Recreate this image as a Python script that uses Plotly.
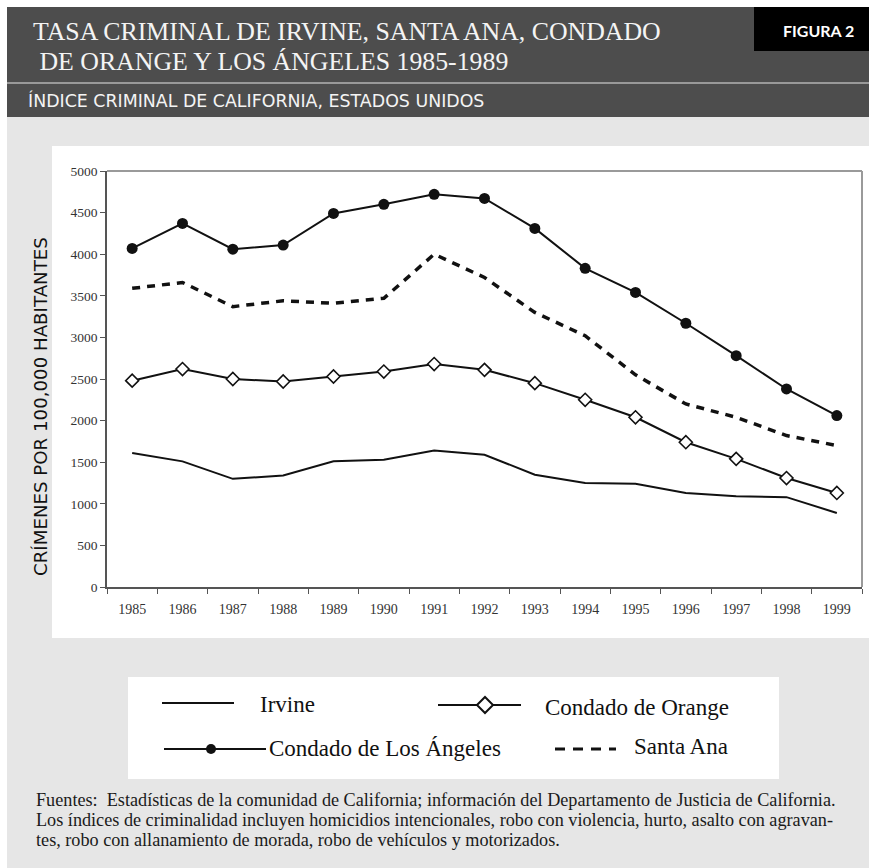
import plotly.graph_objects as go

# ---- data -------------------------------------------------------------
years = [str(y) for y in range(1985, 2000)]

irvine = [1610, 1510, 1300, 1340, 1510, 1530, 1640, 1590,
          1350, 1250, 1240, 1130, 1090, 1080, 890]
orange_county = [2480, 2620, 2500, 2470, 2530, 2590, 2680, 2610,
                 2450, 2250, 2040, 1740, 1540, 1310, 1130]
los_angeles = [4070, 4370, 4060, 4110, 4490, 4600, 4720, 4670,
               4310, 3830, 3540, 3170, 2780, 2380, 2060]
santa_ana = [3590, 3660, 3370, 3440, 3410, 3470, 4000, 3720,
             3300, 3020, 2550, 2200, 2040, 1820, 1700]

y_ticks = [0, 500, 1000, 1500, 2000, 2500, 3000, 3500, 4000, 4500, 5000]

title_lines = ["TASA CRIMINAL DE IRVINE, SANTA ANA, CONDADO",
               " DE ORANGE Y LOS ÁNGELES 1985-1989"]
subtitle = "ÍNDICE CRIMINAL DE CALIFORNIA, ESTADOS UNIDOS"
badge = "FIGURA 2"
y_title = "CRÍMENES POR 100,000 HABITANTES"
footnote_lines = [
    "Fuentes:  Estadísticas de la comunidad de California; información del Departamento de Justicia de California.",
    "Los índices de criminalidad incluyen homicidios intencionales, robo con violencia, hurto, asalto con agravan-",
    "tes, robo con allanamiento de morada, robo de vehículos y motorizados.",
]

# ---- page geometry (pixels) ------------------------------------------
W, H = 869, 868
PL, PR, PT, PB = 107, 862, 171, 587   # plot area edges


def fx(x):
    return (x - PL) / (PR - PL)


def fy(y):
    return (PB - y) / (PB - PT)


SERIF = "Liberation Serif"
SANS = "DejaVu Sans"
INK = "#111111"

fig = go.Figure()

fig.add_trace(go.Scatter(x=years, y=irvine, mode="lines", name="Irvine",
                         line=dict(color=INK, width=2)))
fig.add_trace(go.Scatter(x=years, y=santa_ana, mode="lines", name="Santa Ana",
                         line=dict(color=INK, width=3.5, dash="8px,7px")))
fig.add_trace(go.Scatter(x=years, y=orange_county, mode="lines+markers",
                         name="Condado de Orange",
                         line=dict(color=INK, width=2),
                         marker=dict(symbol="diamond", size=10, color="white",
                                     line=dict(color=INK, width=1.6))))
fig.add_trace(go.Scatter(x=years, y=los_angeles, mode="lines+markers",
                         name="Condado de Los Ángeles",
                         line=dict(color=INK, width=2),
                         marker=dict(symbol="circle", size=11, color=INK)))

shapes = []


def rect(x0, y0, x1, y1, color, layer="below"):
    shapes.append(dict(type="rect", xref="paper", yref="paper",
                       x0=fx(x0), x1=fx(x1), y0=fy(y1), y1=fy(y0),
                       fillcolor=color, line=dict(width=0), layer=layer))


def hline(x0, x1, y, color, width, dash="solid", layer="above"):
    shapes.append(dict(type="line", xref="paper", yref="paper",
                       x0=fx(x0), x1=fx(x1), y0=fy(y), y1=fy(y),
                       line=dict(color=color, width=width, dash=dash),
                       layer=layer))


# page panels
rect(7, 117, W, H, "#e6e6e6")
rect(7, 7, W, 117, "#4d4d4d")
rect(754, 7, W, 51, "#000000")
hline(7, W, 83, "#b3b3b3", 1.5, layer="below")
rect(52, 146, W, 638, "#ffffff")
rect(128, 677, 779, 779, "#ffffff")

# plot frame (top and right edges)
shapes.append(dict(type="line", xref="paper", yref="paper", x0=0, x1=1, y0=1, y1=1,
                   line=dict(color="#9a9a9a", width=2)))
shapes.append(dict(type="line", xref="paper", yref="paper", x0=1, x1=1, y0=0, y1=1,
                   line=dict(color="#9a9a9a", width=2)))

# legend keys
hline(162, 234, 703, INK, 2.2)
hline(438, 521, 705, INK, 2.2)
hline(164, 266, 749, INK, 2.2)
hline(555, 616, 749, INK, 3, dash="10px,8px")

# diamond key
dx, dy, r = 485, 705, 8
shapes.append(dict(type="path", xref="paper", yref="paper",
                   path=(f"M {fx(dx - r)},{fy(dy)} L {fx(dx)},{fy(dy - r)} "
                         f"L {fx(dx + r)},{fy(dy)} L {fx(dx)},{fy(dy + r)} Z"),
                   fillcolor="white", line=dict(color=INK, width=2)))
# dot key
cx, cy, cr = 211, 749, 5
shapes.append(dict(type="circle", xref="paper", yref="paper",
                   x0=fx(cx - cr), x1=fx(cx + cr), y0=fy(cy + cr), y1=fy(cy - cr),
                   fillcolor=INK, line=dict(color=INK, width=0)))

annotations = []


def label(text, x, y, size, family, color="#111111", xanchor="left",
          yanchor="middle", angle=0, weight="normal", align="left"):
    annotations.append(dict(text=text, x=fx(x), y=fy(y), xref="paper", yref="paper",
                            showarrow=False, xanchor=xanchor, yanchor=yanchor,
                            textangle=angle, align=align,
                            font=dict(family=family, size=size, color=color,
                                      weight=weight)))


label(title_lines[0], 31, 31, 25.8, SERIF, color="#f4f4f4")
label(title_lines[1], 31, 61, 25.8, SERIF, color="#f4f4f4")
label(subtitle, 26, 101, 17.4, SANS, color="#f4f4f4")
label(badge, 818, 30, 16, "Lato", color="#ffffff", xanchor="center", weight="bold")
label(y_title, 40, 407, 18.2, SANS, xanchor="center", angle=-90)

label("Irvine", 258, 704, 23, SERIF)
label("Condado de Orange", 543, 707, 23, SERIF)
label("Condado de Los Ángeles", 267, 748, 23, SERIF)
label("Santa Ana", 632, 746, 23, SERIF)

for i, line in enumerate(footnote_lines):
    label(line, 34, 800 + 20 * i, 18.2, SERIF, color="#1a1a1a")

fig.update_layout(
    width=W, height=H, autosize=False,
    margin=dict(l=PL, r=W - PR, t=PT, b=H - PB, pad=0),
    paper_bgcolor="#ffffff", plot_bgcolor="#ffffff",
    showlegend=False,
    shapes=shapes, annotations=annotations,
    xaxis=dict(type="category", range=[-0.5, 14.5], showgrid=False,
               showline=True, linecolor="#555555", linewidth=1.5,
               ticks="outside", tickson="boundaries", ticklen=5,
               tickcolor="#555555", tickwidth=1, ticklabelstandoff=8,
               tickfont=dict(family=SERIF, size=14, color="#333333"),
               fixedrange=True),
    yaxis=dict(range=[0, 5000], tickvals=y_ticks, showgrid=False,
               zeroline=False, showline=True, linecolor="#555555", linewidth=1.5,
               ticks="outside", ticklen=5, tickcolor="#555555", tickwidth=1,
               tickfont=dict(family=SERIF, size=13.5, color="#333333"),
               fixedrange=True),
)

fig.write_html("out.html")
